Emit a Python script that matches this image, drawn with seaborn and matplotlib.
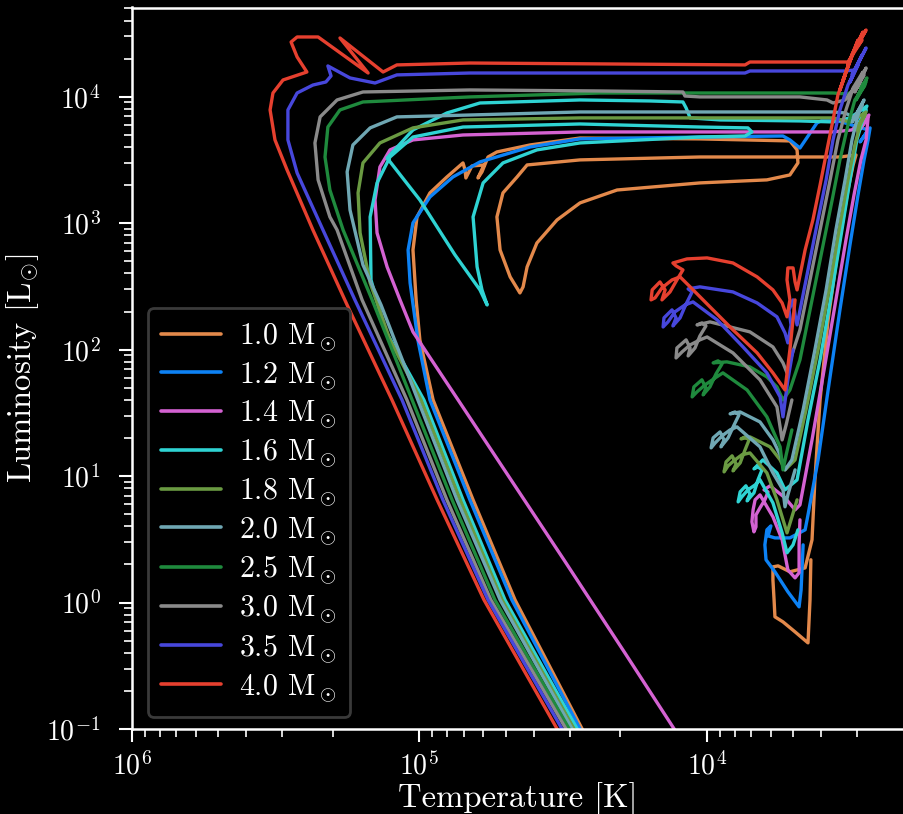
import numpy as np
import pandas as pd
import matplotlib
matplotlib.use("Agg")
import matplotlib.pyplot as plt
import seaborn as sns

# Evolutionary tracks: log10 effective temperature [K] and log10 luminosity [Lsun]
masses = ["1.0", "1.2", "1.4", "1.6", "1.8", "2.0", "2.5", "3.0", "3.5", "4.0"]
colors = ["#e3894b", "#0d82f5", "#d462d2", "#2fd3d3", "#6a9a42",
          "#6fa7b3", "#1f8a3d", "#8a8a8a", "#4747dc", "#e6402f"]

logT_10 = [3.638, 3.641, 3.648, 3.693, 3.735, 3.763, 3.766, 3.770, 3.770, 3.752, 3.711, 3.658,
           3.634, 3.624, 3.606, 3.578, 3.544, 3.509, 3.491, 3.481,
           3.537, 4.024, 4.441, 4.625, 4.660, 4.709, 4.730, 4.719, 4.684, 4.650, 4.639, 4.625,
           4.591, 4.521, 4.441, 4.312, 4.024, 3.791, 3.711, 3.683, 3.686, 3.711, 4.024, 4.441,
           4.615, 4.730, 4.761, 4.782, 4.796, 4.775, 4.817, 4.838, 4.841, 4.848, 4.904, 4.963,
           5.008, 5.022, 5.011, 4.998, 4.952, 4.813, 4.667, 4.434, 4.403]
logL_10 = [0.338, 0.021, -0.319, -0.232, -0.153, -0.113, 0.021, 0.179, 0.282, 0.290, 0.243, 0.274,
           0.496, 0.970, 1.602, 2.235, 2.788, 3.262, 3.460, 3.539,
           3.523, 3.523, 3.500, 3.460, 3.365, 3.239, 3.049, 2.788, 2.575, 2.448, 2.496, 2.654,
           2.843, 3.025, 3.160, 3.262, 3.318, 3.342, 3.381, 3.476, 3.579, 3.650, 3.666, 3.673,
           3.618, 3.563, 3.523, 3.405, 3.357, 3.460, 3.452, 3.357, 3.421, 3.476, 3.365, 3.239,
           3.049, 2.788, 2.393, 2.077, 1.602, 0.812, 0.021, -0.998, -1.125]

logT_12 = [3.665, 3.672, 3.679, 3.718, 3.763, 3.794, 3.798, 3.791, 3.777, 3.787, 3.763, 3.711, 3.658,
           3.648, 3.613, 3.578, 3.537, 3.502, 3.474, 3.453, 3.439,
           3.432, 3.467, 3.439, 3.554, 3.596, 3.617, 3.676, 3.711, 3.735, 4.024, 4.441, 4.615,
           4.789, 4.883, 4.963, 5.022, 5.039, 5.032, 5.005, 4.963, 4.824, 4.678, 4.441, 4.410]
logL_12 = [0.456, 0.100, -0.034, 0.085, 0.243, 0.338, 0.456, 0.575, 0.606, 0.527, 0.511, 0.511, 0.575,
           0.693, 1.128, 1.681, 2.314, 2.828, 3.223, 3.500, 3.658,
           3.753, 3.642, 3.737, 3.816, 3.816, 3.792, 3.594, 3.658, 3.689, 3.681, 3.666, 3.602,
           3.484, 3.365, 3.207, 3.002, 2.788, 2.527, 2.077, 1.602, 0.812, 0.021, -0.998, -1.125]

logT_14 = [3.676, 3.679, 3.679, 3.693, 3.718, 3.738, 3.770, 3.815,
           3.832, 3.839, 3.843, 3.836, 3.829, 3.829, 3.815, 3.798, 3.787, 3.801,
           3.780, 3.728, 3.693,
           3.676, 3.634, 3.592, 3.551, 3.516, 3.488, 3.464, 3.446,
           3.439, 3.474, 3.436, 3.495, 3.561, 4.024, 4.441, 4.848, 5.022, 5.102, 5.137, 5.154,
           5.147, 5.112, 5.067, 5.022, 4.865, 4.674, 4.497, 4.285, 4.114, 4.079]
logL_14 = [0.654, 0.456, 0.235, 0.195, 0.258, 0.496, 0.678, 0.851,
           0.812, 0.733, 0.638, 0.559, 0.598, 0.693, 0.749, 0.812, 0.875, 0.891,
           0.923, 0.828, 0.733,
           0.772, 1.286, 1.840, 2.393, 2.867, 3.223, 3.500, 3.658,
           3.832, 3.721, 3.855, 3.737, 3.721, 3.721, 3.721, 3.697, 3.658, 3.579, 3.444, 3.183,
           2.923, 2.654, 2.393, 2.140, 1.602, 0.946, 0.338, -0.398, -0.998, -1.125]

logT_16 = [3.683, 3.700, 3.721, 3.738, 3.770, 3.815,
           3.832, 3.857, 3.878, 3.891, 3.884, 3.864, 3.850, 3.860, 3.836, 3.822, 3.808, 3.822, 3.836,
           3.805, 3.756, 3.728,
           3.686, 3.648, 3.606, 3.564, 3.530, 3.502, 3.478, 3.460,
           3.446, 3.478, 3.443, 3.502, 3.561,
           3.676, 3.954, 4.058, 4.072, 4.083, 4.198, 4.441, 4.789, 4.904, 5.022, 5.112,
           4.998, 4.876, 4.789, 4.764, 4.782, 4.799, 4.813, 4.778, 4.709, 4.591, 4.441, 4.024,
           3.867, 3.843, 3.857,
           4.024, 4.441, 4.848, 5.022, 5.102, 5.147, 5.171, 5.168, 5.119, 4.984, 4.848, 4.702,
           4.451, 4.420]
logL_16 = [0.575, 0.456, 0.393, 0.551, 0.788, 0.970,
           0.930, 0.891, 0.836, 0.796, 0.875, 0.923, 0.859, 0.804, 0.867, 0.970, 1.049, 1.073, 1.057,
           1.128, 1.025, 0.891,
           0.970, 1.444, 1.919, 2.472, 2.946, 3.342, 3.658, 3.800,
           3.895, 3.753, 3.926, 3.832, 3.800,
           3.808, 3.816, 3.832, 3.911, 3.958, 3.966, 3.974, 3.950, 3.871, 3.737, 3.515,
           3.183, 2.749, 2.472, 2.353, 2.472, 2.654, 3.049, 3.318, 3.476, 3.579, 3.634, 3.681,
           3.689, 3.721, 3.753,
           3.760, 3.784, 3.760, 3.681, 3.523, 3.318, 3.049, 2.551, 2.156, 1.602, 0.812, 0.021,
           -0.998, -1.125]

logT_18 = [3.686, 3.707, 3.721, 3.738, 3.756, 3.791, 3.850,
           3.878, 3.902, 3.926, 3.940, 3.933, 3.912, 3.898, 3.909, 3.884, 3.867, 3.853, 3.867, 3.881,
           3.850, 3.780, 3.745, 3.728,
           3.693, 3.655, 3.613, 3.575, 3.540, 3.509, 3.485, 3.467,
           3.450, 3.481, 3.446, 3.502, 3.561,
           4.024, 4.441, 4.848, 5.022, 5.137, 5.196, 5.213, 5.206, 5.171, 5.102, 4.994, 4.858,
           4.712, 4.462, 4.431]
logL_18 = [0.812, 0.654, 0.551, 0.678, 0.812, 1.025, 1.183,
           1.168, 1.128, 1.081, 1.033, 1.112, 1.160, 1.096, 1.041, 1.104, 1.207, 1.286, 1.310, 1.294,
           1.310, 1.231, 1.128, 1.049,
           1.128, 1.523, 1.998, 2.472, 2.946, 3.342, 3.618, 3.776,
           3.855, 3.737, 3.879, 3.800, 3.832,
           3.832, 3.832, 3.816, 3.753, 3.634, 3.476, 3.239, 2.923, 2.527, 2.077, 1.602, 0.812,
           0.021, -0.998, -1.125]

logT_20 = [3.693, 3.718, 3.728, 3.735, 3.770, 3.815, 3.895,
           3.919, 3.947, 3.971, 3.985, 3.978, 3.954, 3.940, 3.951, 3.926, 3.905, 3.888, 3.902, 3.919,
           3.884, 3.815, 3.770, 3.745, 3.728,
           3.704, 3.665, 3.624, 3.585, 3.551, 3.519, 3.495, 3.474,
           3.460, 3.495, 3.453, 3.485, 3.519, 3.561,
           4.024, 4.441, 4.824, 5.078, 5.171, 5.231, 5.251, 5.241, 5.196, 5.133, 5.005, 4.869,
           4.719, 4.469, 4.438]
logL_20 = [1.049, 0.851, 0.757, 0.891, 1.025, 1.231, 1.389,
           1.365, 1.318, 1.262, 1.223, 1.302, 1.349, 1.286, 1.231, 1.302, 1.405, 1.484, 1.507, 1.492,
           1.507, 1.428, 1.286, 1.168, 1.049,
           1.128, 1.523, 1.998, 2.472, 2.946, 3.342, 3.658, 3.855,
           3.934, 3.800, 3.974, 3.832, 3.871, 3.879,
           3.879, 3.879, 3.855, 3.840, 3.753, 3.618, 3.405, 3.104, 2.670, 2.353, 1.602, 0.812,
           0.021, -0.998, -1.125]

logT_25 = [3.704, 3.724, 3.735, 3.745, 3.791, 3.860, 3.944,
           3.971, 4.006, 4.034, 4.051, 4.045, 4.017, 4.003, 4.013, 3.989, 3.968, 3.947, 3.961, 3.978,
           3.930, 3.850, 3.791, 3.756, 3.735, 3.711,
           3.676, 3.634, 3.599, 3.564, 3.537, 3.509, 3.485,
           3.450, 3.481, 3.443, 3.474, 3.446, 3.509, 3.561,
           4.024, 4.371, 4.824, 5.196, 5.276, 5.318, 5.328, 5.311, 5.265, 5.164, 5.025, 4.886,
           4.737, 4.479, 4.448]
logL_25 = [1.365, 1.168, 1.049, 1.231, 1.468, 1.681, 1.816,
           1.776, 1.721, 1.666, 1.626, 1.705, 1.761, 1.697, 1.642, 1.705, 1.808, 1.887, 1.911, 1.895,
           1.903, 1.863, 1.784, 1.705, 1.602, 1.681,
           1.919, 2.393, 2.788, 3.183, 3.500, 3.776, 3.974,
           4.092, 3.974, 4.148, 4.013, 4.116, 4.021, 4.029,
           4.029, 4.029, 3.998, 3.958, 3.895, 3.760, 3.523, 3.262, 2.946, 2.393, 1.602, 0.812,
           0.021, -0.998, -1.125]

logT_30 = [3.704, 3.724, 3.738, 3.756, 3.815, 3.909, 3.999,
           4.024, 4.058, 4.086, 4.107, 4.104, 4.072, 4.058, 4.065, 4.041, 4.024, 4.003, 4.017, 4.034,
           3.989, 3.850, 3.770, 3.735, 3.721, 3.704,
           3.676, 3.641, 3.606, 3.571, 3.544, 3.516, 3.491,
           3.457, 3.485, 3.446, 3.478, 3.453, 3.519, 3.561, 3.582, 3.676, 4.024, 4.076, 4.083,
           4.371, 4.824, 5.196, 5.286, 5.345, 5.363, 5.352, 5.311, 5.286, 5.199, 5.043, 4.904,
           4.751, 4.490, 4.458]
logL_30 = [1.602, 1.405, 1.286, 1.547, 1.761, 1.974, 2.100,
           2.077, 2.037, 1.982, 1.934, 2.013, 2.077, 2.013, 1.950, 2.013, 2.108, 2.187, 2.211, 2.195,
           2.219, 2.140, 2.021, 1.895, 1.816, 1.958,
           2.156, 2.551, 2.946, 3.342, 3.658, 3.895, 4.069,
           4.195, 4.037, 4.227, 4.069, 4.172, 3.974, 3.950, 3.974, 3.998, 3.998, 4.005, 4.037,
           4.045, 4.053, 4.037, 3.974, 3.840, 3.634, 3.342, 3.049, 2.946, 2.393, 1.602, 0.812,
           0.021, -0.998, -1.125]

logT_35 = [3.700, 3.718, 3.735, 3.745, 3.791, 3.874, 3.964, 4.048,
           4.076, 4.111, 4.135, 4.152, 4.149, 4.121, 4.107, 4.118, 4.093, 4.072, 4.051, 4.065,
           4.024, 3.909, 3.825, 3.756, 3.728, 3.718,
           3.707, 3.714, 3.700, 3.693, 3.686,
           3.648, 3.617, 3.585, 3.561, 3.537, 3.509,
           3.474, 3.502, 3.460, 3.495, 3.446, 3.485, 3.519, 3.544,
           3.850, 3.867, 4.371, 4.824, 5.078, 5.154, 5.241, 5.318, 5.307, 5.325, 5.370, 5.425,
           5.457, 5.457, 5.425, 5.335, 5.224, 5.060, 4.918, 4.761, 4.504, 4.472]
logL_35 = [1.998, 1.761, 1.468, 1.626, 1.816, 2.021, 2.235, 2.377,
           2.353, 2.298, 2.219, 2.179, 2.251, 2.314, 2.251, 2.187, 2.251, 2.361, 2.456, 2.480,
           2.496, 2.456, 2.369, 2.259, 2.132, 2.053,
           2.195, 2.314, 2.393, 2.274, 2.195,
           2.630, 2.986, 3.342, 3.658, 3.895, 4.092,
           4.251, 4.116, 4.330, 4.172, 4.385, 4.211, 4.203, 4.203,
           4.203, 4.187, 4.187, 4.187, 4.172, 4.108, 4.148, 4.243, 4.164, 4.116, 4.092, 4.029,
           3.895, 3.658, 3.397, 2.946, 2.393, 1.602, 0.812, 0.021, -0.998, -1.125]

logT_40 = [3.693, 3.711, 3.728, 3.770, 3.825, 3.909, 3.989, 4.058, 4.093,
           4.121, 4.156, 4.180, 4.194, 4.190, 4.163, 4.145, 4.156, 4.128, 4.104, 4.083, 4.107, 4.118,
           4.069, 3.999, 3.909, 3.825, 3.770, 3.738, 3.721,
           3.711, 3.721, 3.718, 3.700, 3.693, 3.686,
           3.658, 3.631, 3.606, 3.582, 3.561, 3.544,
           3.519, 3.537, 3.495, 3.526, 3.474, 3.509, 3.457, 3.495, 3.446, 3.485, 3.460, 3.509, 3.554,
           3.850, 3.867, 4.371, 4.824, 5.078, 5.126, 5.276, 5.178, 5.352, 5.425, 5.446, 5.425,
           5.391, 5.474, 5.509, 5.519, 5.502, 5.460, 5.370, 5.248, 5.095, 4.938, 4.775, 4.521, 4.490]
logL_40 = [2.393, 1.998, 1.681, 1.816, 1.974, 2.156, 2.338, 2.496, 2.575,
           2.551, 2.488, 2.409, 2.393, 2.472, 2.535, 2.472, 2.393, 2.456, 2.551, 2.630, 2.662, 2.685,
           2.717, 2.725, 2.685, 2.575, 2.472, 2.369, 2.259,
           2.393, 2.551, 2.646, 2.646, 2.535, 2.472,
           2.788, 3.025, 3.302, 3.579, 3.816, 4.013,
           4.172, 4.053, 4.330, 4.132, 4.448, 4.251, 4.511, 4.330, 4.527, 4.369, 4.448, 4.274, 4.274,
           4.274, 4.251, 4.259, 4.266, 4.251, 4.195, 4.464, 4.187, 4.472, 4.472, 4.432, 4.314,
           4.195, 4.132, 4.029, 3.895, 3.658, 3.421, 2.946, 2.338, 1.602, 0.812, 0.021, -0.998, -1.125]

track_T = [logT_10, logT_12, logT_14, logT_16, logT_18, logT_20, logT_25, logT_30, logT_35, logT_40]
track_L = [logL_10, logL_12, logL_14, logL_16, logL_18, logL_20, logL_25, logL_30, logL_35, logL_40]

labels = [f"{m} M$_\\odot$" for m in masses]
frames = []
for lab, lt, ll in zip(labels, track_T, track_L):
    frames.append(pd.DataFrame({
        "Teff": 10.0 ** np.asarray(lt),
        "L": 10.0 ** np.asarray(ll),
        "step": np.arange(len(lt)),
        "track": lab,
    }))
df = pd.concat(frames, ignore_index=True)

sns.set_theme(style="ticks", rc={
    "figure.facecolor": "black", "axes.facecolor": "black",
    "savefig.facecolor": "black", "axes.edgecolor": "white",
    "axes.labelcolor": "white", "text.color": "white",
    "xtick.color": "white", "ytick.color": "white",
})
plt.rcParams["font.family"] = ["cmr10", "DejaVu Serif"]
plt.rcParams["mathtext.fontset"] = "cm"
plt.rcParams["axes.formatter.use_mathtext"] = True
plt.rcParams["axes.unicode_minus"] = True

fig = plt.figure(figsize=(9.04, 8.14), dpi=100)
ax = fig.add_axes([131.8 / 904, 85 / 814, 1 - 131.8 / 904, 721.5 / 814])

sns.lineplot(data=df, x="Teff", y="L", hue="track", hue_order=labels,
             palette=colors, sort=False, estimator=None, lw=2.4,
             solid_joinstyle="round", solid_capstyle="round", ax=ax, legend=True)

ax.set_xscale("log")
ax.set_yscale("log")
ax.set_xlim(1e6, 10 ** (6 - (904 - 131.8) / 287.5))
ax.set_ylim(0.1, 10 ** 4.705)

ax.set_xlabel("Temperature [K]", fontsize=23.5, labelpad=1)
ax.set_ylabel("Luminosity [L$_{\\odot}$]", fontsize=23.5, labelpad=4)

for s in ["left", "bottom", "top"]:
    ax.spines[s].set_color("white")
    ax.spines[s].set_linewidth(1.8)
ax.spines["right"].set_visible(False)
ax.tick_params(which="major", direction="out", length=9.5, width=1.5, labelsize=20,
               top=False, right=False)
ax.tick_params(axis="y", which="major", pad=13)
ax.tick_params(axis="x", which="major", pad=7)
ax.tick_params(which="minor", direction="out", length=5.5, width=1.2, top=False, right=False)

handles, labs = ax.get_legend_handles_labels()
leg = ax.legend(handles, labs, loc="lower left", bbox_to_anchor=(16 / 772, 12 / 721.5),
                borderaxespad=0, fontsize=21.5, frameon=True, fancybox=True,
                facecolor="black", edgecolor="#3a3a3a", framealpha=1.0,
                handlelength=2.0, labelspacing=0.24, handletextpad=0.6, borderpad=0.45)
leg.get_frame().set_linewidth(2.0)
for h in leg.get_lines():
    h.set_linewidth(2.6)
for t in leg.get_texts():
    t.set_color("white")

fig.savefig("out.png", dpi=100, facecolor="black")
